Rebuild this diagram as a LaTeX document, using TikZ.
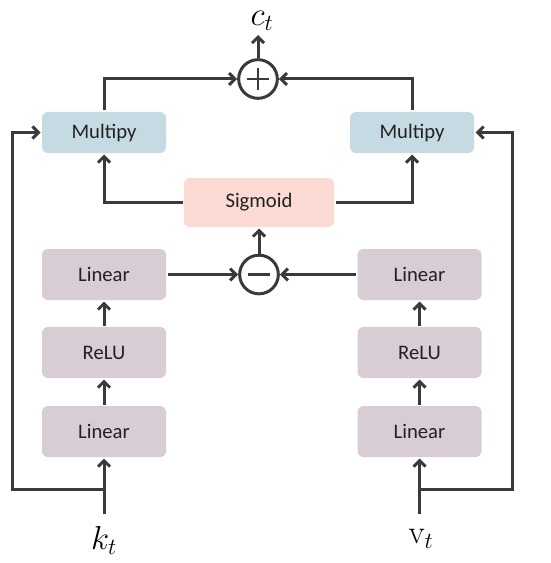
\documentclass[tikz,border=0pt]{standalone}
\usepackage[no-math]{fontspec}
\setmainfont{Carlito}
\usetikzlibrary{arrows.meta}
\definecolor{ln}{HTML}{3A3A3A}
\definecolor{mulc}{HTML}{C6DAE4}
\definecolor{sigc}{HTML}{FADAD2}
\definecolor{linc}{HTML}{D8CCD5}
\definecolor{txt}{HTML}{222222}
\begin{document}
\begin{tikzpicture}[x=0.75pt,y=-0.75pt,
  line width=2.25pt, draw=ln,
  >={Straight Barb[length=4.5pt,width=9pt,line width=2.25pt]},
  conn/.style={draw=ln, line width=2.25pt, ->},
  box/.style={rounded corners=4.5pt, minimum width=93pt, inner sep=0pt, font=\fontsize{15.5}{18}\selectfont, text=txt},
  mul/.style={box, fill=mulc, minimum height=30.75pt},
  lin/.style={box, fill=linc, minimum height=38.25pt},
  sig/.style={box, fill=sigc, minimum width=112.5pt, minimum height=36.75pt},
  op/.style={circle, draw=ln, fill=white, minimum size=29pt, inner sep=0pt, line width=2.25pt},
  lab/.style={font=\fontsize{24}{28}\selectfont, text=black, inner sep=0pt}
]
\useasboundingbox (0,0) rectangle (550,563);

\node[mul] (mul1) at (104,132.5) {Multipy};
\node[mul] (mul2) at (412,132.5) {Multipy};
\node[sig] (sig) at (259,202.5) {Sigmoid};
\node[op] (plus) at (258,79) {};
\node[op] (minus) at (259,274.5) {};
\node[lin] (lin1t) at (104,274.5) {Linear};
\node[lin] (relu1) at (104,352.5) {ReLU};
\node[lin] (lin1b) at (104,431.5) {Linear};
\node[lin] (lin2t) at (419.5,274.5) {Linear};
\node[lin] (relu2) at (419.5,352.5) {ReLU};
\node[lin] (lin2b) at (419.5,431.5) {Linear};

\node[lab] (ct) at (262,21) {$c_t$};
\node[lab] (kt) at (104,540) {$k_t$};
\node[lab] (vt) at (421,539) {$\mathrm{v}_t$};

\coordinate (ctend) at (258,35);
\coordinate (kin) at (104,514);
\coordinate (vin) at (419.5,514);
\coordinate (kbr) at (104,489);
\coordinate (vbr) at (419.5,489);
\coordinate (kcorner) at (12,489);
\coordinate (vcorner) at (512,489);

% plus and minus signs
\draw[line width=1.6pt] ([xshift=-8.5pt]plus.center) -- ([xshift=8.5pt]plus.center)
  ([yshift=-8.5pt]plus.center) -- ([yshift=8.5pt]plus.center);
\draw[line width=1.6pt] ([xshift=-8.5pt]minus.center) -- ([xshift=8.5pt]minus.center);

% connectors
\draw[conn] (plus.north) -- (ctend);
\draw[conn] (mul1.north) |- (plus.west);
\draw[conn] (mul2.north) |- (plus.east);
\draw[conn] (sig.west) -| (mul1.south);
\draw[conn] (sig.east) -| (mul2.south);
\draw[conn] (minus.north) -- (sig.south);
\draw[conn] (lin1t.east) -- (minus.west);
\draw[conn] (lin2t.west) -- (minus.east);
\draw[conn] (relu1.north) -- (lin1t.south);
\draw[conn] (lin1b.north) -- (relu1.south);
\draw[conn] (relu2.north) -- (lin2t.south);
\draw[conn] (lin2b.north) -- (relu2.south);
\draw[conn] (kin) -- (lin1b.south);
\draw[conn] (vin) -- (lin2b.south);
\draw[conn] (kbr) -- (kcorner) |- (mul1.west);
\draw[conn] (vbr) -- (vcorner) |- (mul2.east);
\end{tikzpicture}
\end{document}
